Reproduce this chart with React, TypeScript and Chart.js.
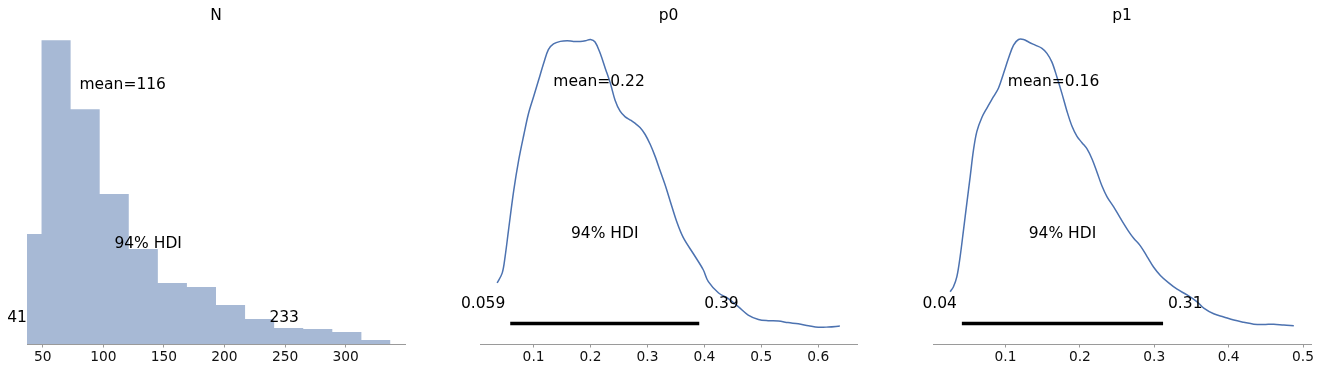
import React, { useEffect, useRef } from "react";
import { Chart, registerables } from "chart.js";

Chart.register(...registerables);

// ---------- data ----------
const TITLES = ["N", "p0", "p1"];

// N: histogram (bin edges and heights)
const N_BIN_EDGES = [37, 49, 73, 97, 121, 145, 169, 193, 217, 241, 265, 289, 313, 337];
const N_COUNTS = [110, 304, 235, 150, 95, 61, 57, 39, 25, 16, 15, 12, 4];
const N_TICKS = [50, 100, 150, 200, 250, 300];
const N_X_RANGE = [37, 349];

// p0: kernel density
const P0_X = [0.036, 0.045, 0.05, 0.056, 0.065, 0.074, 0.083, 0.091, 0.1, 0.109, 0.118, 0.126, 0.135, 0.147, 0.159, 0.17, 0.182, 0.191, 0.2, 0.208, 0.217, 0.226, 0.235, 0.243, 0.252, 0.261, 0.27, 0.278, 0.287, 0.296, 0.305, 0.314, 0.322, 0.331, 0.34, 0.352, 0.363, 0.381, 0.398, 0.407, 0.425, 0.442, 0.46, 0.477, 0.495, 0.512, 0.53, 0.547, 0.565, 0.583, 0.6, 0.618, 0.638];
const P0_DENSITY = [0.74, 0.9, 1.16, 1.58, 2.2, 2.7, 3.1, 3.43, 3.7, 3.97, 4.24, 4.45, 4.54, 4.58, 4.59, 4.58, 4.58, 4.59, 4.61, 4.57, 4.39, 4.15, 3.91, 3.65, 3.47, 3.38, 3.33, 3.28, 3.21, 3.1, 2.94, 2.74, 2.53, 2.3, 2.04, 1.7, 1.46, 1.2, 0.95, 0.76, 0.58, 0.49, 0.36, 0.23, 0.16, 0.14, 0.135, 0.11, 0.09, 0.06, 0.035, 0.04, 0.055];
const P0_TICKS = [0.1, 0.2, 0.3, 0.4, 0.5, 0.6];

// p1: kernel density
const P1_X = [0.0256, 0.03, 0.0346, 0.039, 0.0435, 0.048, 0.0525, 0.0569, 0.0615, 0.0682, 0.075, 0.0838, 0.0906, 0.0973, 0.104, 0.1108, 0.1175, 0.1242, 0.131, 0.14, 0.149, 0.1557, 0.1624, 0.1692, 0.1759, 0.1826, 0.1894, 0.1961, 0.2028, 0.2096, 0.2163, 0.223, 0.2297, 0.2365, 0.2454, 0.2544, 0.2655, 0.2723, 0.2813, 0.2903, 0.2992, 0.3082, 0.3194, 0.3307, 0.3441, 0.3576, 0.3665, 0.3799, 0.3934, 0.4069, 0.4203, 0.4338, 0.4472, 0.4607, 0.4742, 0.4876];
const P1_DENSITY = [0.6, 0.68, 0.84, 1.16, 1.58, 2.01, 2.43, 2.85, 3.15, 3.37, 3.52, 3.7, 3.84, 4.07, 4.31, 4.52, 4.61, 4.61, 4.57, 4.52, 4.47, 4.39, 4.25, 4.01, 3.75, 3.47, 3.23, 3.07, 2.97, 2.87, 2.71, 2.5, 2.28, 2.11, 1.95, 1.77, 1.56, 1.45, 1.33, 1.16, 0.99, 0.86, 0.74, 0.64, 0.55, 0.44, 0.34, 0.25, 0.2, 0.15, 0.115, 0.085, 0.08, 0.085, 0.07, 0.06];
const P1_TICKS = [0.1, 0.2, 0.3, 0.4, 0.5];

// summary statistics
const MEANS = [116, 0.215, 0.1646];
const MEAN_LABELS = ["mean=116", "mean=0.22", "mean=0.16"];
const HDI_LOW = [41, 0.059, 0.0413];
const HDI_HIGH = [233, 0.391, 0.3118];
const HDI_LOW_LABELS = ["41", "0.059", "0.04"];
const HDI_HIGH_LABELS = ["233", "0.39", "0.31"];
const HDI_TEXT = "94% HDI";

// ---------- styling / layout ----------
const FONT = '"DejaVu Sans", "Liberation Sans", sans-serif';
const LINE_COLOR = "#4c72b0";
const HIST_COLOR = "#a7b9d5";
const AXIS_COLOR = "#9a9a9a";
const H = 372;
const PANELS = [
  { axLeft: 27, axRight: 405, padL: 27, padR: 30 },
  { axLeft: 480, axRight: 857, padL: 45, padR: 30 },
  { axLeft: 933, axRight: 1311, padL: 46, padR: 10 },
];

function marginRange(xs: number[]) {
  const lo = Math.min(...xs);
  const hi = Math.max(...xs);
  const m = (hi - lo) * 0.05;
  return [lo - m, hi + m];
}

function buildConfig(i: number): any {
  const panel = PANELS[i];
  let datasets: any[] = [];
  let ticks: number[];
  let xMin: number, xMax: number, yMin: number, yMax: number;

  if (i === 0) {
    const pts = N_COUNTS.map((c, k) => ({ x: N_BIN_EDGES[k], y: c }));
    pts.push({ x: N_BIN_EDGES[N_BIN_EDGES.length - 1], y: N_COUNTS[N_COUNTS.length - 1] });
    datasets.push({
      data: pts,
      stepped: "before",
      fill: "origin",
      backgroundColor: HIST_COLOR,
      borderColor: "rgba(0,0,0,0)",
      borderWidth: 0,
      pointRadius: 0,
    });
    ticks = N_TICKS;
    [xMin, xMax] = N_X_RANGE;
    yMin = 0;
    yMax = Math.max(...N_COUNTS) * 1.05;
  } else {
    const xs = i === 1 ? P0_X : P1_X;
    const ds = i === 1 ? P0_DENSITY : P1_DENSITY;
    datasets.push({
      data: xs.map((x, k) => ({ x, y: ds[k] })),
      borderColor: LINE_COLOR,
      borderWidth: 1.5,
      pointRadius: 0,
      fill: false,
      tension: 0.35,
    });
    ticks = i === 1 ? P0_TICKS : P1_TICKS;
    [xMin, xMax] = marginRange(xs);
    const M = Math.max(...ds);
    yMin = -0.05 * M;
    yMax = 1.05 * M;
  }

  const hdiY = 0.02 * yMax;
  datasets.push({
    data: [
      { x: HDI_LOW[i], y: hdiY },
      { x: HDI_HIGH[i], y: hdiY },
    ],
    borderColor: "#000",
    borderWidth: 3.5,
    borderCapStyle: "butt",
    pointRadius: 0,
    fill: false,
  });

  const annot = {
    id: "annot" + i,
    afterDraw(chart: any) {
      const { ctx, chartArea, scales } = chart;
      const x = scales.x;
      const y = scales.y;
      const top = y.max;
      ctx.save();
      ctx.fillStyle = "#000";
      ctx.textBaseline = "alphabetic";
      ctx.font = `15.5px ${FONT}`;
      ctx.textAlign = "center";
      ctx.fillText(TITLES[i], (chartArea.left + chartArea.right) / 2, 20);
      ctx.fillText(MEAN_LABELS[i], x.getPixelForValue(MEANS[i]), y.getPixelForValue(0.8 * top));
      ctx.fillText(
        HDI_TEXT,
        x.getPixelForValue((HDI_LOW[i] + HDI_HIGH[i]) / 2),
        y.getPixelForValue(0.3 * top)
      );
      ctx.textAlign = "right";
      ctx.fillText(HDI_LOW_LABELS[i] + " ", x.getPixelForValue(HDI_LOW[i]), y.getPixelForValue(0.07 * top));
      ctx.textAlign = "left";
      ctx.fillText(" " + HDI_HIGH_LABELS[i], x.getPixelForValue(HDI_HIGH[i]), y.getPixelForValue(0.07 * top));
      ctx.restore();
    },
  };

  return {
    type: "line",
    data: { datasets },
    options: {
      animation: false,
      responsive: false,
      devicePixelRatio: 1,
      events: [],
      layout: { padding: { left: panel.padL, right: panel.padR, top: 25, bottom: 0 } },
      plugins: { legend: { display: false }, tooltip: { enabled: false }, title: { display: false } },
      scales: {
        x: {
          type: "linear",
          min: xMin,
          max: xMax,
          afterBuildTicks: (scale: any) => {
            scale.ticks = ticks.map((v) => ({ value: v }));
          },
          afterFit: (scale: any) => {
            scale.height = H - 344;
          },
          border: { display: true, color: AXIS_COLOR, width: 1 },
          grid: {
            display: true,
            drawOnChartArea: false,
            drawTicks: true,
            tickLength: 3.5,
            color: AXIS_COLOR,
          },
          ticks: {
            autoSkip: false,
            maxRotation: 0,
            padding: 2,
            color: "#111",
            font: { family: FONT, size: 13.8 },
            callback: (v: any) => String(v),
          },
        },
        y: { display: false, min: yMin, max: yMax },
      },
    },
    plugins: [annot],
  };
}

function Panel({ index }: { index: number }) {
  const ref = useRef<HTMLCanvasElement>(null);
  const p = PANELS[index];
  const left = p.axLeft - p.padL;
  const width = p.axRight - p.axLeft + p.padL + p.padR;
  useEffect(() => {
    const chart = new Chart(ref.current as HTMLCanvasElement, buildConfig(index));
    return () => chart.destroy();
  }, [index]);
  return (
    <canvas
      ref={ref}
      width={width}
      height={H}
      style={{ position: "absolute", left, top: 0, width, height: H, display: "block" }}
    />
  );
}

export default function App() {
  return (
    <div style={{ position: "absolute", left: 0, top: 0, width: 1321, height: H, background: "#fff", overflow: "hidden" }}>
      {[0, 1, 2].map((i) => (
        <Panel key={i} index={i} />
      ))}
    </div>
  );
}
